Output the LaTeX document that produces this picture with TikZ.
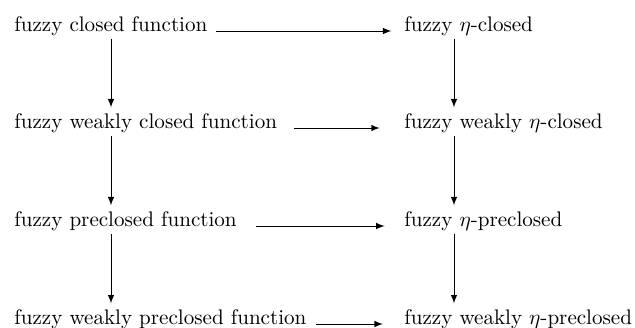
\documentclass[tikz,border=0pt]{standalone}
\usepackage{amsmath}
\usepackage{amssymb}
\usetikzlibrary{positioning}

\begin{document}
\begin{tikzpicture}[x=0.474pt, y=-0.474pt]
    \useasboundingbox (0, 0) rectangle (635, 327);

        % Draw the notions
        \tikzset{notion/.style={anchor=base west, inner sep=0pt}}
        \node[notion] at (14, 31)   (closed)     {fuzzy closed function};
        \node[notion] at (14, 128)  (wclosed)    {fuzzy weakly closed function};
        \node[notion] at (14, 226)  (preclosed)  {fuzzy preclosed function};
        \node[notion] at (14, 324)  (wpreclosed) {fuzzy weakly preclosed function};
        \node[notion] at (404, 31)  (eclosed)    {fuzzy $\eta$-closed};
        \node[notion] at (404, 128) (weclosed)   {fuzzy weakly $\eta$-closed};
        \node[notion] at (404, 226) (epreclosed) {fuzzy $\eta$-preclosed};
        \node[notion] at (404, 324) (wepreclosed) {fuzzy weakly $\eta$-preclosed};
        \coordinate (lx) at (111, 0);
        \coordinate (rx) at (454, 0);

        % Connect the notions with arrows
        \draw[every edge/.append style={-latex},
              shorten <=1.4pt,
              shorten >=2.5pt]
            (closed.south -| lx)     edge (wclosed.north -| lx)
            (wclosed.south -| lx)    edge (preclosed.north -| lx)
            (preclosed.south -| lx)  edge (wpreclosed.north -| lx)
            (eclosed.south -| rx)    edge (weclosed.north -| rx)
            (weclosed.south -| rx)   edge (epreclosed.north -| rx)
            (epreclosed.south -| rx) edge (wepreclosed.north -| rx);
        \draw[every edge/.append style={-latex},
              shorten <=3.8pt]
            (closed.base east)     edge[shorten >=6pt]  (eclosed.base west)
            (wclosed.base east)    edge[shorten <=7.6pt, shorten >=11.5pt] (weclosed.base west)
            (preclosed.base east)  edge[shorten <=9pt, shorten >=9.2pt] (epreclosed.base west)
            (wpreclosed.base east) edge[shorten <=4.3pt, shorten >=10pt] (wepreclosed.base west);
    \end{tikzpicture}
\end{document}
